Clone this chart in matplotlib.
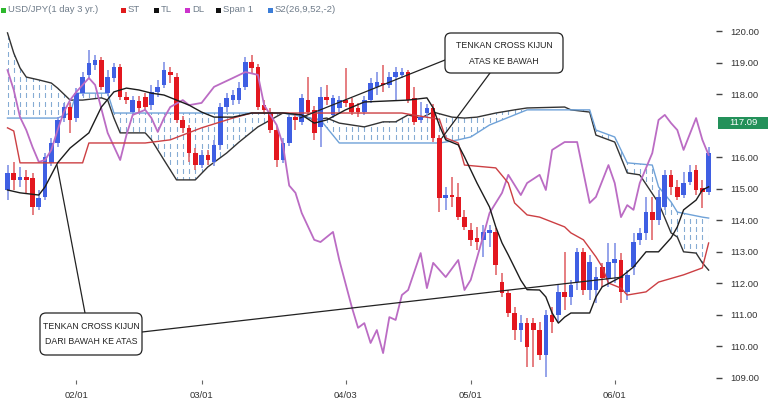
import numpy as np
import matplotlib
matplotlib.use("Agg")
import matplotlib.pyplot as plt
from matplotlib.patches import FancyBboxPatch, Rectangle
from matplotlib.transforms import IdentityTransform

plt.rcParams['font.family'] = ['Liberation Sans', 'DejaVu Sans']

# ---------------- data ----------------
opens = [114.96,115.50,115.28,115.37,115.34,114.42,114.74,115.82,116.45,117.24,
         117.59,117.24,118.03,118.61,118.92,119.08,118.03,118.51,118.86,117.91,
         117.43,117.78,117.91,117.65,118.07,118.29,118.70,118.54,117.18,116.93,
         116.13,115.75,116.07,115.85,116.39,117.59,117.81,117.81,118.23,119.02,
         118.86,117.65,117.43,116.86,115.91,116.45,117.27,117.12,117.81,117.50,
         116.96,117.91,117.34,117.56,117.81,117.72,117.56,117.43,117.81,118.23,
         118.35,118.29,118.54,118.61,118.70,117.88,117.18,117.40,117.56,116.61,
         114.71,114.80,114.74,114.10,113.69,113.44,113.38,113.60,113.63,112.04,
         111.70,111.06,110.52,110.74,110.74,110.52,109.73,111.00,111.00,111.73,
         111.57,112.04,112.99,111.79,111.79,112.52,112.17,112.65,112.74,111.73,
         112.52,113.38,113.60,114.26,114.01,114.42,115.44,115.06,114.80,115.21,
         115.59,115.02,114.90]
closes = [115.50,115.28,115.37,115.28,114.42,114.71,116.01,116.45,117.18,117.59,
          117.18,118.03,118.54,118.99,119.08,118.23,118.54,118.86,117.91,117.81,
          117.81,117.56,117.59,118.07,118.23,118.76,118.61,117.18,116.93,116.13,
          115.75,116.07,115.91,116.39,117.59,117.88,117.97,118.19,119.02,118.83,
          117.59,117.50,116.86,115.91,116.45,117.27,117.18,117.88,117.43,116.77,
          117.91,117.81,117.88,117.81,117.72,117.43,117.43,117.81,118.35,118.38,
          118.29,118.54,118.70,118.70,117.81,117.12,117.27,117.56,116.61,114.71,
          114.80,114.74,114.10,113.79,113.38,113.31,113.63,113.69,112.58,111.70,
          111.06,110.52,110.74,109.98,110.52,109.73,111.00,110.78,111.73,111.57,
          111.95,112.99,111.79,112.68,112.20,112.17,112.68,112.77,111.73,112.27,
          113.31,113.60,114.26,114.01,114.74,115.44,115.06,114.74,115.18,115.53,
          114.96,114.90,116.13]
highs = [115.75,115.85,115.69,115.59,115.50,114.96,116.13,116.61,117.27,117.72,
         117.72,118.19,118.70,119.40,119.24,119.18,118.76,118.99,118.95,118.07,
         117.94,117.94,118.03,118.29,118.45,119.02,118.86,118.67,117.31,117.02,
         116.29,116.23,116.23,116.55,117.72,118.03,118.13,118.38,119.18,119.24,
         118.95,117.81,117.56,116.99,116.61,117.40,117.40,118.00,118.54,117.62,
         118.23,118.29,117.97,117.94,118.83,117.88,117.72,117.94,118.51,118.70,
         118.92,118.70,118.86,118.83,118.76,118.23,117.75,117.69,117.69,116.70,
         115.06,115.37,115.18,114.33,113.91,113.79,113.85,113.85,113.76,112.33,
         111.79,111.25,111.00,110.90,110.90,110.78,111.16,111.25,111.95,113.00,
         112.11,113.12,113.12,112.90,112.52,112.65,113.28,113.28,112.96,112.42,
         113.60,113.76,114.74,114.74,114.96,115.59,115.59,115.28,115.53,115.75,
         115.75,115.28,116.32]
lows = [114.64,114.96,115.06,114.87,114.17,114.33,114.64,115.72,116.32,117.12,
        116.77,117.12,117.94,118.51,118.76,118.13,117.94,118.38,117.81,117.69,
        117.34,117.43,117.46,117.50,117.91,118.19,118.35,117.08,116.77,115.85,
        115.59,115.66,115.75,115.72,116.23,117.43,117.65,117.69,118.13,118.67,
        117.50,117.37,116.77,115.69,115.82,116.35,116.86,117.02,117.34,116.55,
        116.32,117.65,117.24,117.43,117.59,117.34,117.27,117.34,117.72,117.97,
        118.07,118.19,117.81,118.51,117.72,117.02,117.08,117.24,116.48,114.26,
        114.33,114.42,114.01,113.69,113.19,113.06,112.84,113.15,112.27,111.57,
        110.94,110.21,110.14,109.35,109.35,109.57,109.03,110.43,110.78,111.16,
        111.32,111.79,111.63,111.47,111.38,111.89,111.89,112.01,111.38,111.47,
        112.27,113.22,113.38,113.38,113.85,114.33,114.80,114.64,114.71,115.12,
        114.80,114.39,114.80]

# Tenkan (ST)
st_x = [0,1,2,11,12,13,22,26,31,36,39,63,69,70,72,73,78,80,81,83,85,89,90,92,94,95,96,98,99,102,104,108,111,112]
st_y = [116.93,116.83,115.82,115.82,115.82,116.45,116.45,116.55,116.93,117.24,
        117.40,117.40,117.20,116.61,116.45,115.75,115.66,115.18,114.55,114.17,
        114.10,113.79,113.60,113.38,112.84,112.52,112.01,111.85,111.63,111.73,
        112.04,112.27,112.49,113.28]
# Kijun (TL)
tl_x = [0,2,5,6,8,10,13,15,17,19,21,23,25,27,29,31,33,36,39,44,47,49,51,54,57,64,67,68,69,70,
        72,73,75,77,78,79,80,81,82,83,85,86,87,88,89,90,93,94,95,98,100,102,104,106,107,108,110,111,112]
tl_y = [114.96,114.87,114.80,115.06,115.82,116.29,116.77,117.59,118.07,118.19,
        118.13,118.03,117.97,117.81,117.65,117.43,117.27,117.27,117.40,117.40,
        117.34,117.08,117.18,117.50,117.75,117.81,117.88,117.56,117.00,116.55,
        116.39,116.01,115.18,114.42,113.79,113.28,112.90,112.50,112.10,111.80,
        111.79,111.57,111.06,110.74,110.93,111.06,111.06,111.57,111.89,112.20,
        112.52,113.00,113.00,113.44,113.79,114.33,114.64,114.96,115.06]
# Chikou (DL)
dl_x = [0,1,2,3,4,5,6,7,8,9,10,11,13,14,16,18,19,20,22,23,24,25,26,28,29,31,33,36,38,40,41,43,
        44,45,46,47,49,50,52,53,55,56,57,58,59,60,61,62,63,64,66,67,68,70,72,73,74,76,77,79,80,
        82,83,85,86,87,89,91,93,94,96,97,98,99,100,101,103,104,105,106,107,108,110,111,112]
dl_y = [118.76,118.13,117.27,116.86,116.32,115.85,115.91,116.23,116.86,117.43,117.81,118.07,
        118.51,118.29,116.77,115.91,116.70,117.34,117.50,117.24,116.80,117.24,
        117.59,117.81,117.65,117.72,118.23,118.51,118.70,118.61,117.65,117.02,
        116.39,115.10,114.87,114.23,113.38,113.31,113.63,112.74,111.25,110.59,
        110.74,110.11,110.52,109.79,110.93,110.84,111.63,111.79,112.96,111.85,
        112.65,112.20,112.74,111.79,112.11,113.50,114.23,114.87,115.44,114.80,
        115.18,115.44,114.96,116.23,116.48,116.48,114.55,114.74,115.75,115.18,
        114.10,114.48,114.33,115.18,116.13,117.18,117.34,117.08,116.86,116.23,
        117.24,116.55,116.07]
# Span 1
span1_x = [0,1,2,3,5,7,8,10,12,15,16,17,18,22,23,25,27,30,32,35,37,40,42,44,47,49,51,53,55,57,
           60,62,64,66,68,71,73,75,78,81,83,89,90,93,94,97,99,101,104,106,107,108,110,111,112]
span1_y = [119.94,119.30,118.83,118.54,118.45,118.35,118.19,117.81,117.81,117.88,
           117.81,117.24,116.77,116.77,116.55,115.91,115.28,115.28,115.69,116.13,
           116.48,116.96,117.18,117.40,117.34,117.18,117.24,117.08,117.02,116.96,
           117.12,117.12,117.34,117.24,117.43,117.27,117.24,117.27,117.40,117.50,
           117.56,117.59,117.50,117.43,116.70,116.48,115.50,115.44,114.55,113.60,
           113.47,113.00,112.96,112.65,112.42]
# Span 2
span2_x = [0,8,10,11,16,17,44,50,53,69,70,72,74,77,79,83,93,94,97,99,103,104,106,107,111,112]
span2_y = [117.24,117.24,117.40,118.03,118.03,117.40,117.40,117.18,116.45,116.45,
           116.48,116.55,116.64,117.02,117.18,117.50,117.50,116.86,116.64,115.82,
           115.75,115.06,114.58,114.26,114.10,114.07]

x_tick_pos = [11, 31, 54, 74, 97]
x_tick_labels = ['02/01', '03/01', '04/03', '05/01', '06/01']
y_ticks = [109, 110, 111, 112, 113, 114, 115, 116, 118, 119, 120]
last_label = 117.09

legend_labels = ['USD/JPY(1 day 3 yr.)', 'ST', 'TL', 'DL', 'Span 1', 'S2(26,9,52,-2)']
legend_colors = ['#2db82d', '#e01b1b', '#111111', '#cc33cc', '#111111', '#3b7dd8']

ann_texts = ['TENKAN CROSS KIJUN\nATAS KE BAWAH', 'TENKAN CROSS KIJUN\nDARI BAWAH KE ATAS']
ann_targets_x = [[46.7, 69.4], [7.9, 98.3]]
ann_targets_y = [[117.24, 116.61], [115.75, 112.20]]

# ---------------- layout ----------------
W, H = 768, 409
fig = plt.figure(figsize=(W / 100, H / 100), dpi=100)
fig.patch.set_facecolor('white')

AX_L, AX_R, AX_T, AX_B = 0, 716, 18, 380
ax = fig.add_axes([AX_L / W, 1 - AX_B / H, (AX_R - AX_L) / W, (AX_B - AX_T) / H])
PX_DAY, X0_PX = 6.26, 7.5
PX_YEN, Y120_PX = 31.545, 31
ax.set_xlim((AX_L - X0_PX) / PX_DAY, (AX_R - X0_PX) / PX_DAY)
ax.set_ylim(120 - (AX_B - Y120_PX) / PX_YEN, 120 + (Y120_PX - AX_T) / PX_YEN)
for s in ax.spines.values():
    s.set_visible(False)

# ---------------- cloud ----------------
xf = np.linspace(0, len(opens) - 1, 4000)
s1 = np.interp(xf, span1_x, span1_y)
s2 = np.interp(xf, span2_x, span2_y)
cloud = ax.fill_between(xf, s1, s2, facecolor='white', edgecolor='none', zorder=1)
gx, gy = np.meshgrid(np.arange(0, len(opens)), np.arange(108.95, 120.4, 0.265))
marks = ax.scatter(gx.ravel(), gy.ravel(), marker='|', s=10, c='#86acd4',
                   linewidths=0.8, zorder=1.5)
marks.set_clip_path(cloud.get_paths()[0], ax.transData)

ax.plot(span1_x, span1_y, color='#333333', lw=1.0, zorder=2)
ax.plot(span2_x, span2_y, color='#6fa2d8', lw=1.0, zorder=2)

# ---------------- candles ----------------
o = np.array(opens); c = np.array(closes); hi = np.array(highs); lo = np.array(lows)
xi = np.arange(len(o))
up = c >= o
body_col = np.where(up, '#3f5fe3', '#e3171f')
wick_col = np.where(up, '#8393e6', '#e2686c')
ax.vlines(xi, lo, hi, colors=wick_col, lw=1.2, zorder=3)
bh = np.maximum(np.abs(c - o), 0.07)
ax.bar(xi, bh, bottom=np.minimum(o, c), width=0.74, color=body_col, linewidth=0, zorder=3.2)

# ---------------- lines ----------------
ax.plot(dl_x, dl_y, color='#bb6cc4', lw=1.3, zorder=4)
ax.plot(st_x, st_y, color='#cc3f43', lw=1.0, zorder=4)
ax.plot(tl_x, tl_y, color='#1c1c1c', lw=1.0, zorder=4)

# ---------------- axes ticks ----------------
ax.yaxis.tick_right()
ax.set_yticks(y_ticks)
ax.set_yticklabels([f'{v:.2f}' for v in y_ticks])
ax.set_xticks(x_tick_pos)
ax.set_xticklabels(x_tick_labels)
ax.tick_params(axis='y', direction='out', length=4, width=1.0, color='#444444',
               pad=6.5, labelsize=6.8, labelcolor='#333333')
ax.tick_params(axis='x', direction='out', length=3, width=0.8, color='#666666',
               pad=5, labelsize=6.8, labelcolor='#333333')

# last price label
ydisp = ax.transData.transform((0, last_label))[1]
fig.add_artist(Rectangle((718, ydisp - 6), 50, 12, transform=IdentityTransform(),
                         facecolor='#23915a', edgecolor='none', zorder=10))
fig.text(743 / W, ydisp / H, f'{last_label:.2f}', color='white', fontsize=6.8,
         ha='center', va='center', zorder=11)

# ---------------- legend ----------------
leg_px = [1, 121, 154, 185, 216, 268]
for lab, col, px in zip(legend_labels, legend_colors, leg_px):
    fig.add_artist(Rectangle((px, H - 12.5), 5, 5, transform=IdentityTransform(),
                             facecolor=col, edgecolor='none', zorder=10))
    fig.text((px + 7) / W, 1 - 10 / H, lab, color='#6f7c8a', fontsize=6.8, va='center')

# ---------------- annotations ----------------
boxes = [(445, 33, 118, 40), (40, 313, 102, 42)]
starts = [[(445, 60), (490, 73)], [(85, 313), (142, 332)]]
spacing = [2.0, 1.8]
for k in range(2):
    bx, by, bw, bh_ = boxes[k]
    for (sx, sy), tx, ty in zip(starts[k], ann_targets_x[k], ann_targets_y[k]):
        ax.annotate('', xy=(tx, ty), xycoords='data', xytext=(sx, H - sy),
                    textcoords='figure pixels', annotation_clip=False,
                    arrowprops=dict(arrowstyle='-', color='#222222', lw=0.9,
                                    shrinkA=0, shrinkB=0), zorder=6)
    fig.add_artist(FancyBboxPatch((bx, H - by - bh_), bw, bh_,
                                  boxstyle='round,pad=0,rounding_size=6',
                                  transform=IdentityTransform(), facecolor='white',
                                  edgecolor='#222222', lw=0.9, zorder=12))
    fig.text((bx + bw / 2) / W, 1 - (by + bh_ / 2) / H, ann_texts[k], ha='center',
             va='center', fontsize=6.3, linespacing=spacing[k], color='#222222', zorder=13)

fig.savefig('out.png', dpi=100)
